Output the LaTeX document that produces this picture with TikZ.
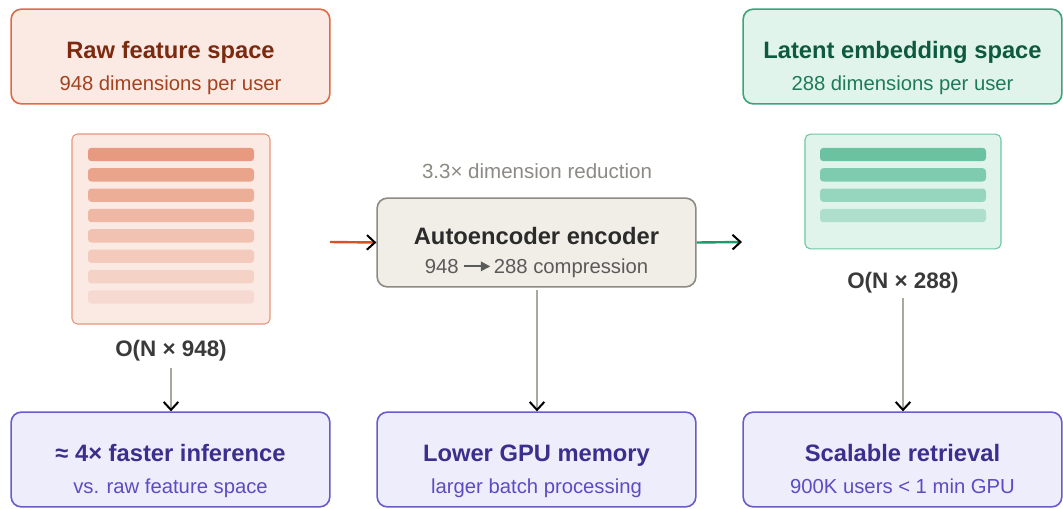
\documentclass[tikz,border=0pt]{standalone}
\usepackage{fontspec}
\setmainfont{Liberation Sans}
\usetikzlibrary{arrows.meta}
\definecolor{rawfill}{HTML}{FBEAE4}
\definecolor{rawdraw}{HTML}{E06A45}
\definecolor{rawtitle}{HTML}{7B2A10}
\definecolor{rawsub}{HTML}{A3421F}
\definecolor{rawpdraw}{HTML}{E8967C}
\definecolor{latfill}{HTML}{E1F4EC}
\definecolor{latdraw}{HTML}{3AA57C}
\definecolor{lattitle}{HTML}{0D5A40}
\definecolor{latsub}{HTML}{1F7A58}
\definecolor{latpdraw}{HTML}{6CC8A0}
\definecolor{encfill}{HTML}{F1EEE8}
\definecolor{encdraw}{HTML}{8C8A82}
\definecolor{enctitle}{HTML}{2B2B2B}
\definecolor{encsub}{HTML}{5A5A5A}
\definecolor{benfill}{HTML}{EEEDFC}
\definecolor{bendraw}{HTML}{6A5CC8}
\definecolor{bentitle}{HTML}{3A2F8C}
\definecolor{bensub}{HTML}{5A4CC4}
\definecolor{notegray}{HTML}{8C8A82}
\definecolor{linkgray}{HTML}{A8A89E}
\definecolor{redlink}{HTML}{D9502A}
\definecolor{greenlink}{HTML}{1E9A6A}
\definecolor{complab}{HTML}{3A3A3A}
\definecolor{rb1}{HTML}{E89A80}
\definecolor{rb2}{HTML}{EAA48C}
\definecolor{rb3}{HTML}{EDAE98}
\definecolor{rb4}{HTML}{EFB8A5}
\definecolor{rb5}{HTML}{F1C2B1}
\definecolor{rb6}{HTML}{F3CABC}
\definecolor{rb7}{HTML}{F5D2C6}
\definecolor{rb8}{HTML}{F6D9D0}
\definecolor{gb1}{HTML}{6BC2A1}
\definecolor{gb2}{HTML}{7ECBAF}
\definecolor{gb3}{HTML}{96D5BE}
\definecolor{gb4}{HTML}{AEDFCC}
\tikzset{
  bigbox/.style={rectangle, rounded corners=7.5pt, line width=1.2pt, minimum width=239pt, minimum height=71pt, inner sep=0pt},
  panelbox/.style={rectangle, rounded corners=4pt, line width=0.8pt, inner sep=0pt},
  barbox/.style={rectangle, rounded corners=2.5pt, inner sep=0pt, minimum width=124.5pt, minimum height=10pt},
  titletext/.style={anchor=base, inner sep=0pt, font=\fontsize{17.8}{20}\selectfont\bfseries},
  subtext/.style={anchor=base, inner sep=0pt, font=\fontsize{15.2}{18}\selectfont},
  tip/.style={-{Straight Barb[color=black, length=6pt, width=11pt, line width=1.5pt]}},
  link/.style={line width=1.8pt, tip},
}
\begin{document}
\begin{tikzpicture}[x=0.75pt, y=-0.75pt]
\useasboundingbox (0,0) rectangle (1063,508);
\fill[white] (0,0) rectangle (1063,508);

% top boxes
\node[bigbox, fill=rawfill, draw=rawdraw] (raw) at (170.5,56.5) {};
\node[titletext, text=rawtitle] (rawt) at (170.5,58.3) {Raw feature space};
\node[subtext, text=rawsub] (raws) at (170.5,90.8) {948 dimensions per user};

\node[bigbox, fill=latfill, draw=latdraw] (lat) at (902.5,56.5) {};
\node[titletext, text=lattitle] (latt) at (902.5,58.3) {Latent embedding space};
\node[subtext, text=latsub] (lats) at (902.5,90.8) {288 dimensions per user};

% raw panel
\node[panelbox, fill=rawfill, draw=rawpdraw, minimum width=148.5pt, minimum height=142.5pt] (rawp) at (171,229) {};
\foreach \i/\c in {0/rb1,1/rb2,2/rb3,3/rb4,4/rb5,5/rb6,6/rb7,7/rb8}{
  \node[barbox, fill=\c] (rbar\i) at (171,{154.5+20.35*\i}) {};
}
\node[titletext, text=complab, font=\fontsize{16.8}{20}\selectfont\bfseries] (oraw) at (171,356.7) {O(N × 948)};

% latent panel
\node[panelbox, fill=latfill, draw=latpdraw, minimum width=147pt, minimum height=86pt] (latp) at (903,191.5) {};
\foreach \i/\c in {0/gb1,1/gb2,2/gb3,3/gb4}{
  \node[barbox, fill=\c] (gbar\i) at (903,{154.5+20.35*\i}) {};
}
\node[titletext, text=complab, font=\fontsize{16.8}{20}\selectfont\bfseries] (olat) at (903,288.3) {O(N × 288)};

% encoder
\node[text=notegray, anchor=base, inner sep=0pt, font=\fontsize{15.4}{18}\selectfont] (note) at (537,178.3) {3.3× dimension reduction};
\node[bigbox, fill=encfill, draw=encdraw, minimum height=66.5pt] (enc) at (536.5,242.5) {};
\node[titletext, text=enctitle] (enct) at (536.5,244.3) {Autoencoder encoder};
\node[subtext, text=encsub] (encs) at (536.5,273.3) {948\hspace{3pt}\tikz[baseline=-5.2pt]\draw[draw=encsub, line width=1.4pt, -{Triangle[length=7pt,width=7pt]}] (0,0)--(20pt,0);\hspace{2pt}288 compression};

% benefit boxes
\node[bigbox, fill=benfill, draw=bendraw] (b1) at (170.5,459.5) {};
\node[titletext, text=bentitle] (b1t) at (170.5,461.7) {≈ 4× faster inference};
\node[subtext, text=bensub] (b1s) at (170.5,493.6) {vs. raw feature space};

\node[bigbox, fill=benfill, draw=bendraw] (b2) at (536.5,459.5) {};
\node[titletext, text=bentitle] (b2t) at (536.5,461.7) {Lower GPU memory};
\node[subtext, text=bensub] (b2s) at (536.5,493.6) {larger batch processing};

\node[bigbox, fill=benfill, draw=bendraw] (b3) at (902.5,459.5) {};
\node[titletext, text=bentitle] (b3t) at (902.5,461.7) {Scalable retrieval};
\node[subtext, text=bensub] (b3s) at (902.5,493.6) {900K users < 1 min GPU};

% connectors
\coordinate (inL) at (330,242);
\coordinate (outR) at (742,242);
\coordinate (d1) at (171,368);
\coordinate (d2) at (537,290);
\coordinate (d3) at (903,298);
\draw[link, draw=redlink] (inL) -- (enc.west);
\draw[link, draw=greenlink] (enc.east) -- (outR);
\draw[link, draw=linkgray] (d1) -- (d1 |- b1.north);
\draw[link, draw=linkgray] (d2) -- (d2 |- b2.north);
\draw[link, draw=linkgray] (d3) -- (d3 |- b3.north);
\end{tikzpicture}
\end{document}
